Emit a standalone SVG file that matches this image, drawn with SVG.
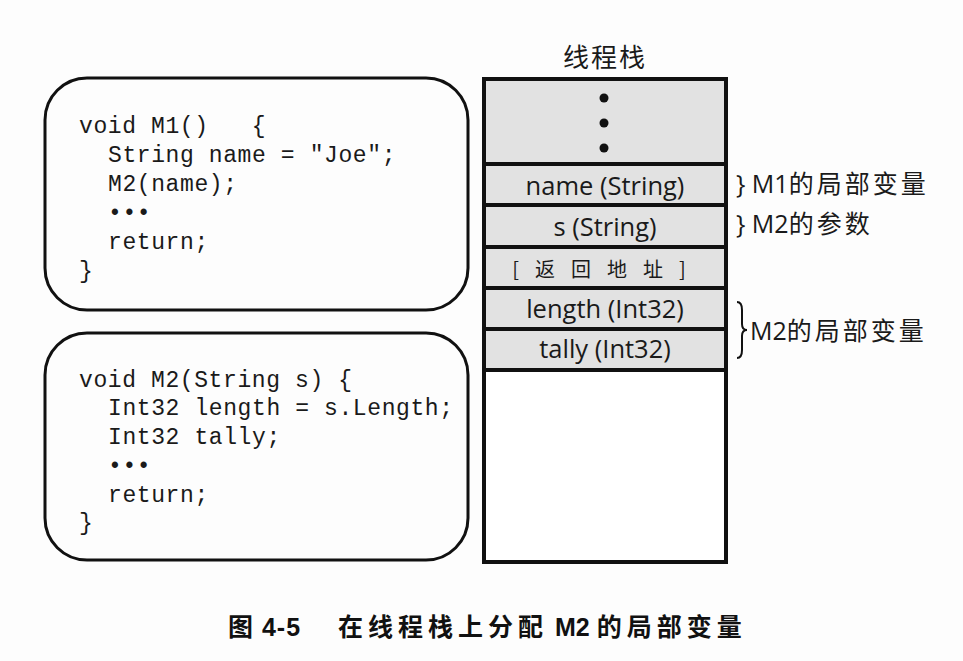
<svg xmlns="http://www.w3.org/2000/svg" width="963" height="661" viewBox="0 0 963 661">
<style>
.code{font-family:"Liberation Mono","DejaVu Sans Mono",monospace;font-size:23px;letter-spacing:0.6px;fill:#1a1a1a}
.box{fill:none;stroke:#111;stroke-width:3}
.cell{fill:#e2e2e2;stroke:#111;stroke-width:4}
.lbl{font-family:"Open Sans","Liberation Sans",sans-serif;font-size:25.5px;fill:#1a1a1a;text-anchor:middle}
.cjk{font-family:"Open Sans","Noto Sans CJK SC",sans-serif;font-size:25px;fill:#1a1a1a}
.sp{letter-spacing:3px}
.cap{letter-spacing:5px}
</style>
<rect width="963" height="661" fill="#fdfdfd"/>
<g id="m1">
<rect class="box" x="45" y="78" width="423" height="232" rx="42"/>
<text class="code" x="79" y="133">void M1()&#160;&#160; {</text>
<text class="code" x="108" y="162">String name = "Joe";</text>
<text class="code" x="108" y="191">M2(name);</text>
<text class="code" x="108" y="220">•••</text>
<text class="code" x="108" y="249">return;</text>
<text class="code" x="79" y="278">}</text>
</g>
<g id="m2">
<rect class="box" x="45" y="333" width="423" height="227" rx="42"/>
<text class="code" x="79" y="387">void M2(String s) {</text>
<text class="code" x="108" y="415">Int32 length = s.Length;</text>
<text class="code" x="108" y="444">Int32 tally;</text>
<text class="code" x="108" y="473">•••</text>
<text class="code" x="108" y="502">return;</text>
<text class="code" x="79" y="530">}</text>
</g>
<g id="stack">
<text x="605" y="67" font-family="Noto Sans CJK SC,sans-serif" font-size="26" letter-spacing="2" text-anchor="middle" fill="#1a1a1a">线程栈</text>
<rect x="484" y="79" width="242" height="483" fill="#fff" stroke="#111" stroke-width="4"/>
<rect class="cell" x="484" y="79" width="242" height="85"/>
<circle cx="604" cy="98" r="4.5" fill="#111"/>
<circle cx="604" cy="123" r="4.5" fill="#111"/>
<circle cx="604" cy="148" r="4.5" fill="#111"/>
</g>
<g id="name">
<rect class="cell" x="484" y="164" width="242" height="41"/>
<text class="lbl" x="605" y="195">name (String)</text>
</g>
<g id="s">
<rect class="cell" x="484" y="205" width="242" height="42"/>
<text class="lbl" x="605" y="236">s (String)</text>
</g>
<g id="ret">
<rect class="cell" x="484" y="247" width="242" height="41"/>
<text x="607" y="277" font-family="Noto Sans CJK SC,sans-serif" font-size="20" letter-spacing="16" text-anchor="middle" fill="#1a1a1a">[返回地址]</text>
</g>
<g id="length">
<rect class="cell" x="484" y="288" width="242" height="41"/>
<text class="lbl" x="605" y="318">length (Int32)</text>
</g>
<g id="tally">
<rect class="cell" x="484" y="329" width="242" height="41"/>
<text class="lbl" x="605" y="358">tally (Int32)</text>
</g>
<g id="labels">
<text class="cjk" x="736" y="193">} M1<tspan class="sp">的局部变量</tspan></text>
<text class="cjk" x="736" y="233">} M2<tspan class="sp">的参数</tspan></text>
<path d="M737,302 Q742,302 742,310 L742,324 Q742,330 747,330 Q742,330 742,336 L742,350 Q742,358 737,358" fill="none" stroke="#111" stroke-width="2"/>
<text class="cjk" x="750" y="340">M2<tspan class="sp">的局部变量</tspan></text>
</g>
<g id="caption">
<text x="228" y="636" font-family="Liberation Sans,Noto Sans CJK SC,sans-serif" font-weight="bold" font-size="25" fill="#111"><tspan letter-spacing="1">图 4-5</tspan><tspan x="338" class="cap">在线程栈上分配</tspan> M2 <tspan class="cap">的局部变量</tspan></text>
</g>
</svg>
